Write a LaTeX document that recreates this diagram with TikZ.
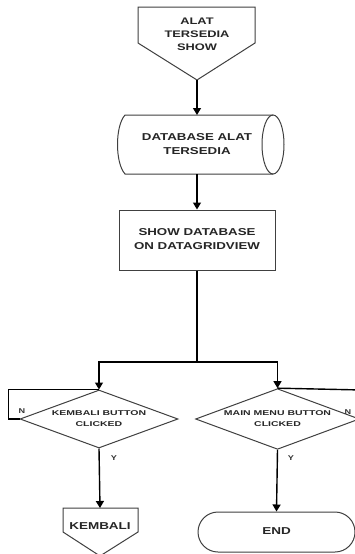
\documentclass[tikz,border=0pt]{standalone}
\usepackage{graphicx}
\usepackage{fontspec}
\setmainfont{Liberation Sans}
\usetikzlibrary{arrows.meta,shapes.geometric,shapes.misc}

% stretched, bold, centred label: #1 horizontal stretch, #2 size, #3 baseline skip, #4 lines
\newcommand{\widelabel}[4]{{\fontsize{#2}{#3}\selectfont\bfseries
  \scalebox{#1}[1]{\begin{tabular}{@{}c@{}}#4\end{tabular}}}}

\tikzset{
  line/.style={draw=black, line width=1.4pt},
  arrow/.style={line, -{Triangle[length=7pt,width=8pt]}},
  outline/.style={draw=black!75, line width=1pt},
  lbl/.style={text=black!85, inner sep=0pt},
  decision/.style={outline, diamond, aspect=2.7, inner sep=0pt, text=black!85},
  yn/.style={text=black!80, inner sep=0pt,
    font=\fontsize{7}{8}\selectfont\bfseries},
}

\begin{document}
\begin{tikzpicture}[x=1pt,y=-1pt]
  \useasboundingbox[fill=white] (0,0) rectangle (355,554);

  % off-page connector at the top
  \coordinate (showtip) at (197,80);
  \draw[outline] (138,7) -- (255,7) -- (255,43) -- (showtip) -- (138,43) -- cycle;
  \node[lbl] (show) at (197,35) {\widelabel{1.35}{9.5}{13}{ALAT\\TERSEDIA\\SHOW}};

  % stored data
  \coordinate (dbtop) at (197,115);
  \coordinate (dbbot) at (197,174);
  \draw[outline] (273,115) -- (125,115) .. controls (115,126) and (115,163) .. (125,174) -- (273,174);
  \draw[outline] (273,144.5) ellipse [x radius=11pt, y radius=29.5pt];
  \node[lbl] (db) at (197,145) {\widelabel{1.33}{10}{14}{DATABASE ALAT\\TERSEDIA}};

  % process
  \node[outline, rectangle, minimum width=156pt, minimum height=60pt, inner sep=0pt,
        text=black!85] (box) at (197,240)
        {\widelabel{1.33}{10}{14}{SHOW DATABASE\\ON DATAGRIDVIEW}};

  % decisions
  \node[decision, minimum width=158pt, minimum height=58pt] (kd) at (99,419)
        {\widelabel{1.5}{7}{10.5}{KEMBALI BUTTON\\CLICKED}};
  \node[decision, minimum width=155pt, minimum height=58pt] (md) at (277.5,419)
        {\widelabel{1.5}{7}{10.5}{MAIN MENU BUTTON\\CLICKED}};

  % off-page connector at the bottom
  \coordinate (kbtop) at (100,508);
  \draw[outline] (63,508) -- (138,508) -- (138,532) -- (100,556) -- (63,532) -- cycle;
  \node[lbl] (kb) at (100,527) {\widelabel{1.35}{10}{12}{KEMBALI}};

  % terminator
  \node[outline, rounded rectangle, minimum width=157pt, minimum height=40pt,
        inner sep=0pt, text=black!85] (endn) at (276.5,532)
        {\widelabel{1.35}{10}{12}{END}};

  % connectors
  \coordinate (split) at (197,362);
  \coordinate (redge) at (362,390);
  \draw[arrow] (showtip) -- (dbtop);
  \draw[arrow] (dbbot) -- (box.north);
  \draw[line] (box.south) -- (split);
  \draw[arrow] (split) -| (kd.north);
  \draw[arrow] (split) -| (md.north);
  \draw[line] (kd.west) -- ++(-11,0) |- (kd.north);
  \draw[line] (md.north) -- (redge);
  \draw[arrow] (kd.south) -- (kbtop);
  \draw[arrow] (md.south) -- (endn.north);

  % branch labels
  \node[yn] (kn) at (22,411) {\scalebox{1.3}[1]{N}};
  \node[yn] (mn) at (348,412) {\scalebox{1.3}[1]{N}};
  \node[yn] (ky) at (114,458) {\scalebox{1.3}[1]{Y}};
  \node[yn] (my) at (291,458) {\scalebox{1.3}[1]{Y}};
\end{tikzpicture}
\end{document}
